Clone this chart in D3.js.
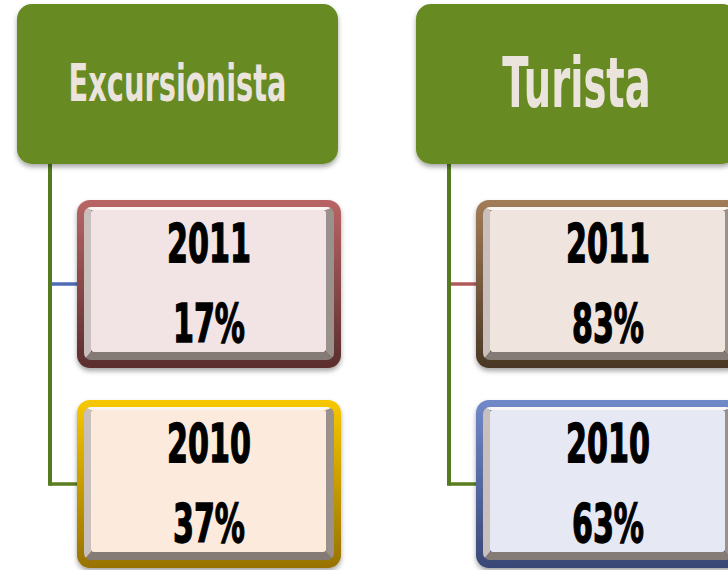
<!DOCTYPE html>
<html>
<head>
<meta charset="utf-8">
<script src="https://cdn.jsdelivr.net/npm/d3@7"></script>
<style>
  html, body { margin: 0; padding: 0; background: #fff; }
  svg { display: block; }
</style>
</head>
<body>
<svg id="chart" width="728" height="570"></svg>
<script>
// data
const groups = ["Excursionista", "Turista"];
const years = ["2011", "2010"];
const excursionistaShare = [17, 37];
const turistaShare = [83, 63];

// styles per group / year box
const rimTop = [["#b96565", "#f7c800"], ["#a27c57", "#7189c9"]];
const rimBottom = [["#5b2d2d", "#977200"], ["#4a3726", "#394676"]];
const faceFill = [["#f2e4e4", "#fcebdc"], ["#efe5de", "#e6e9f4"]];
const branchColor = [["#4f6db3", "#5a7d1f"], ["#b05a5a", "#5a7d1f"]];

const HEADER_GREEN = "#678a22";
const HEADER_TEXT = "#ebe4dd";
const LINE_GREEN = "#567a1f";
const SX = 0.62;       // horizontal squeeze for the condensed look
const FONT = "'DejaVu Sans Condensed', 'DejaVu Sans', sans-serif";

const svg = d3.select("#chart");
const defs = svg.append("defs");

const shadow = defs.append("filter").attr("id", "shadow")
  .attr("x", "-10%").attr("y", "-10%").attr("width", "120%").attr("height", "130%");
shadow.append("feDropShadow")
  .attr("dx", 0).attr("dy", 3).attr("stdDeviation", 2.5)
  .attr("flood-color", "#000").attr("flood-opacity", 0.35);

// scales: columns for groups, rows for years
const x = d3.scaleBand().domain(groups).range([17, 737]).paddingInner(78 / 399);
const y = d3.scaleBand().domain(years).range([200, 568]).paddingInner(0.16);

const headerTop = 4, headerH = 160;
const boxOffset = 60, boxW = 264;
const lineOffset = 33;

const rows = groups.map((g, gi) => ({
  group: g,
  gi,
  cells: years.map((yr, yi) => ({
    year: yr,
    yi,
    gi,
    value: (gi === 0 ? excursionistaShare : turistaShare)[yi]
  }))
}));

// connectors (behind everything)
const conn = svg.append("g");
rows.forEach(r => {
  const lx = x(r.group) + lineOffset;
  const lastY = y(years[years.length - 1]) + y.bandwidth() / 2;
  r.cells.forEach(c => {
    const cy = y(c.year) + y.bandwidth() / 2;
    conn.append("line")
      .attr("x1", lx).attr("x2", x(r.group) + boxOffset + 4)
      .attr("y1", cy).attr("y2", cy)
      .attr("stroke", branchColor[c.gi][c.yi]).attr("stroke-width", 3.5);
  });
  conn.append("line")
    .attr("x1", lx).attr("x2", lx)
    .attr("y1", headerTop + headerH - 4).attr("y2", lastY + 1.75)
    .attr("stroke", LINE_GREEN).attr("stroke-width", 4);
});

// headers
const header = svg.selectAll("g.header").data(rows).join("g").attr("class", "header");
header.append("rect")
  .attr("x", d => x(d.group)).attr("y", headerTop)
  .attr("width", x.bandwidth()).attr("height", headerH)
  .attr("rx", 15)
  .attr("fill", HEADER_GREEN)
  .attr("filter", "url(#shadow)");

header.each(function(d) {
  const g = d3.select(this);
  const cx = x(d.group) + x.bandwidth() / 2;
  const maxSize = 69, maxW = 218;
  const t = g.append("text")
    .attr("font-family", FONT).attr("font-weight", "bold")
    .attr("font-size", maxSize)
    .attr("text-anchor", "middle")
    .attr("fill", HEADER_TEXT)
    .text(d.group);
  const w = t.node().getComputedTextLength() * SX;
  const size = w > maxW ? maxSize * maxW / w : maxSize;
  const base = headerTop + 78 + 0.729 * size / 2;
  t.attr("font-size", size)
    .attr("transform", `translate(${cx},${base}) scale(${SX},1)`);
});

// year boxes
const cell = svg.selectAll("g.col").data(rows).join("g").attr("class", "col")
  .selectAll("g.cell").data(d => d.cells).join("g").attr("class", "cell");

cell.each(function(c) {
  const g = d3.select(this);
  const bx = x(groups[c.gi]) + boxOffset;
  const by = y(c.year);
  const bh = y.bandwidth();
  const id = `rim${c.gi}${c.yi}`;

  const grad = defs.append("linearGradient").attr("id", id)
    .attr("x1", 0).attr("y1", 0).attr("x2", 0).attr("y2", 1);
  grad.append("stop").attr("offset", "0%").attr("stop-color", rimTop[c.gi][c.yi]);
  grad.append("stop").attr("offset", "100%").attr("stop-color", rimBottom[c.gi][c.yi]);

  g.append("rect")
    .attr("x", bx).attr("y", by).attr("width", boxW).attr("height", bh)
    .attr("rx", 13)
    .attr("fill", `url(#${id})`)
    .attr("filter", "url(#shadow)");

  // bevel
  const I = { x0: bx + 7, y0: by + 7, x1: bx + boxW - 7, y1: by + bh - 8 };
  const F = { x0: I.x0 + 7, y0: I.y0 + 3, x1: I.x1 - 8, y1: I.y1 - 8 };
  const clipId = `clip${c.gi}${c.yi}`;
  defs.append("clipPath").attr("id", clipId).append("rect")
    .attr("x", I.x0).attr("y", I.y0).attr("width", I.x1 - I.x0).attr("height", I.y1 - I.y0)
    .attr("rx", 7);
  const bev = g.append("g").attr("clip-path", `url(#${clipId})`);
  const polys = [
    [[I.x0, I.y0], [I.x1, I.y0], [F.x1, F.y0], [F.x0, F.y0], "#faf6f4"],
    [[I.x0, I.y0], [F.x0, F.y0], [F.x0, F.y1], [I.x0, I.y1], "#c9bfbd"],
    [[I.x1, I.y0], [I.x1, I.y1], [F.x1, F.y1], [F.x1, F.y0], "#9a918d"],
    [[I.x0, I.y1], [F.x0, F.y1], [F.x1, F.y1], [I.x1, I.y1], "#847b77"]
  ];
  polys.forEach(p => {
    bev.append("polygon")
      .attr("points", p.slice(0, 4).map(q => q.join(",")).join(" "))
      .attr("fill", p[4]);
  });
  bev.append("rect")
    .attr("x", F.x0).attr("y", F.y0).attr("width", F.x1 - F.x0).attr("height", F.y1 - F.y0)
    .attr("rx", 3)
    .attr("fill", faceFill[c.gi][c.yi]);

  const cx = bx + boxW / 2;
  const size = 54;
  [[c.year, by + 62], [c.value + "%", by + 142]].forEach(([txt, base]) => {
    g.append("text")
      .attr("font-family", FONT).attr("font-weight", "bold")
      .attr("font-size", size)
      .attr("text-anchor", "middle")
      .attr("fill", "#000").attr("stroke", "#000").attr("stroke-width", 1.4)
      .attr("transform", `translate(${cx},${base}) scale(${SX},1)`)
      .text(txt);
  });
});
</script>
</body>
</html>
